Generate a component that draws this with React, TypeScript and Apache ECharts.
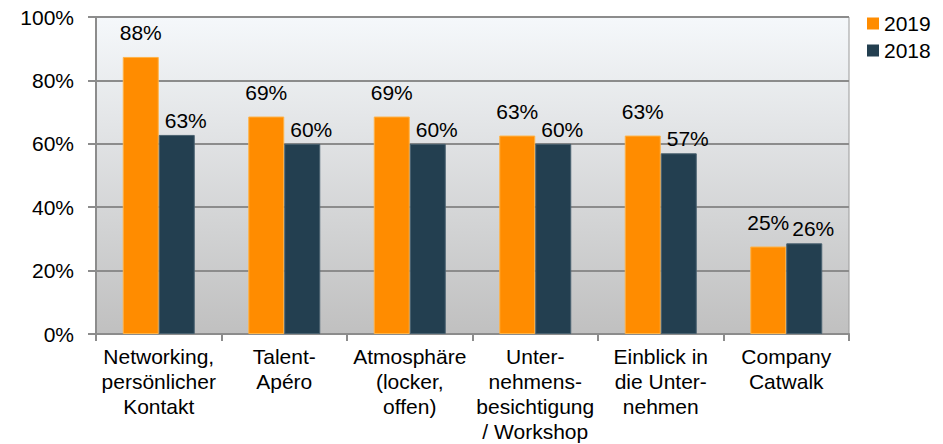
import React, { useEffect, useRef } from "react";
import * as echarts from "echarts";

const categories = [
  "Networking,\npersönlicher\nKontakt",
  "Talent-\nApéro",
  "Atmosphäre\n(locker,\noffen)",
  "Unter-\nnehmens-\nbesichtigung\n/ Workshop",
  "Einblick in\ndie Unter-\nnehmen",
  "Company\nCatwalk",
];
const values2019 = [87.4, 68.6, 68.6, 62.6, 62.6, 27.6];
const values2018 = [62.8, 60.0, 60.0, 60.0, 57.0, 28.6];
const labels2019 = ["88%", "69%", "69%", "63%", "63%", "25%"];
const labels2018 = ["63%", "60%", "60%", "60%", "57%", "26%"];
const yTicks = { min: 0, max: 100, interval: 20 };

const FONT = "'Liberation Sans', Arial, sans-serif";

export default function App() {
  const ref = useRef<HTMLDivElement>(null);
  useEffect(() => {
    if (!ref.current) return;
    const chart = echarts.init(ref.current, undefined, { renderer: "svg" });
    chart.setOption({
      animation: false,
      textStyle: { fontFamily: FONT },
      grid: {
        left: 96,
        top: 17,
        right: 94,
        bottom: 110,
        show: true,
        borderColor: "#9a9a9a",
        borderWidth: 1,
        backgroundColor: new echarts.graphic.LinearGradient(0, 0, 0, 1, [
          { offset: 0, color: "#f5f8fb" },
          { offset: 1, color: "#c0c0c0" },
        ]),
      },
      legend: {
        orient: "vertical",
        left: 867,
        top: 13,
        padding: 0,
        itemWidth: 12,
        itemHeight: 12,
        itemGap: 6,
        icon: "rect",
        itemStyle: { borderWidth: 0 },
        textStyle: { fontSize: 21, color: "#000", fontFamily: FONT },
        data: ["2019", "2018"],
      },
      xAxis: {
        type: "category",
        data: categories,
        axisLine: { show: true, lineStyle: { color: "#8c8c8c", width: 2 } },
        axisTick: { show: true, alignWithLabel: false, length: 7, lineStyle: { color: "#8c8c8c", width: 2 } },
        axisLabel: {
          interval: 0,
          color: "#000",
          fontSize: 21,
          lineHeight: 25,
          margin: 10,
          fontFamily: FONT,
        },
      },
      yAxis: {
        type: "value",
        min: yTicks.min,
        max: yTicks.max,
        interval: yTicks.interval,
        axisLine: { show: true, lineStyle: { color: "#8c8c8c", width: 2 } },
        axisTick: { show: true, length: 8, lineStyle: { color: "#8c8c8c", width: 2 } },
        splitLine: { show: true, lineStyle: { color: "#8c8c8c", width: 2 } },
        axisLabel: {
          color: "#000",
          fontSize: 21,
          margin: 22,
          fontFamily: FONT,
          formatter: "{value}%",
        },
      },
      series: [
        {
          name: "2019",
          type: "bar",
          data: values2019,
          barWidth: 36,
          barGap: "0%",
          itemStyle: { color: "#ff8c00", borderColor: "#ffb347", borderWidth: 1 },
          label: {
            show: true,
            position: "top",
            distance: 14,
            fontSize: 21,
            color: "#000",
            fontFamily: FONT,
            formatter: (p: any) => labels2019[p.dataIndex],
          },
        },
        {
          name: "2018",
          type: "bar",
          data: values2018,
          barWidth: 36,
          barGap: "0%",
          itemStyle: { color: "#233f50", borderColor: "#4a6270", borderWidth: 1 },
          label: {
            show: true,
            position: "top",
            distance: 4,
            offset: [9, 0],
            fontSize: 21,
            color: "#000",
            fontFamily: FONT,
            formatter: (p: any) => labels2018[p.dataIndex],
          },
        },
      ],
    });
    return () => chart.dispose();
  }, []);
  return <div ref={ref} style={{ width: 943, height: 444, position: "absolute", left: 0, top: 0 }} />;
}
